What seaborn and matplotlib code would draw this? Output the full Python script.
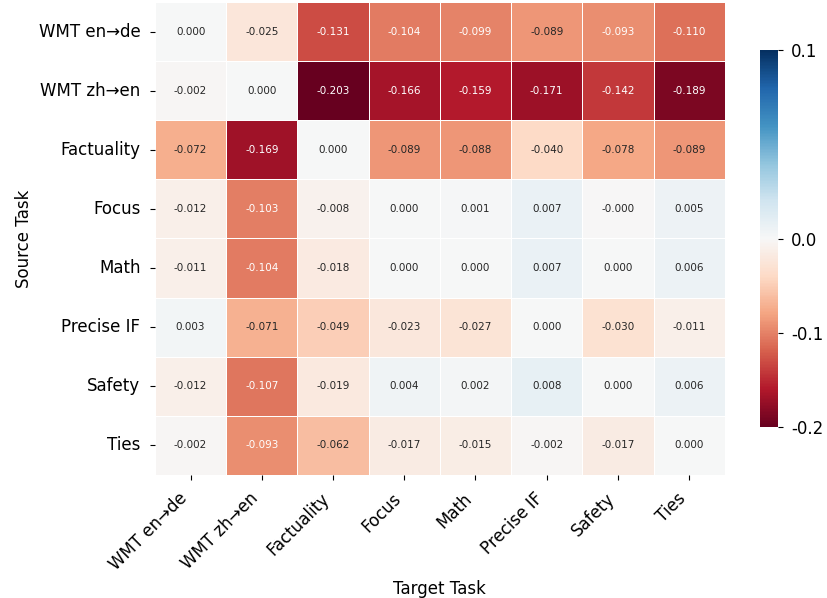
import matplotlib
matplotlib.use("Agg")
import matplotlib.pyplot as plt
import seaborn as sns
import numpy as np
import pandas as pd
from matplotlib.colors import TwoSlopeNorm

tasks = ["WMT en→de", "WMT zh→en", "Factuality", "Focus", "Math", "Precise IF", "Safety", "Ties"]

# rows = source task, columns = target task
wmt_en_de = [0.000, -0.025, -0.131, -0.104, -0.099, -0.089, -0.093, -0.110]
wmt_zh_en = [-0.002, 0.000, -0.203, -0.166, -0.159, -0.171, -0.142, -0.189]
factuality = [-0.072, -0.169, 0.000, -0.089, -0.088, -0.040, -0.078, -0.089]
focus = [-0.012, -0.103, -0.008, 0.000, 0.001, 0.007, -0.0004, 0.005]
math_ = [-0.011, -0.104, -0.018, 0.000, 0.000, 0.007, 0.000, 0.006]
precise_if = [0.003, -0.071, -0.049, -0.023, -0.027, 0.000, -0.030, -0.011]
safety = [-0.012, -0.107, -0.019, 0.004, 0.002, 0.008, 0.000, 0.006]
ties = [-0.002, -0.093, -0.062, -0.017, -0.015, -0.002, -0.017, 0.000]

df = pd.DataFrame([wmt_en_de, wmt_zh_en, factuality, focus, math_, precise_if, safety, ties],
                  index=tasks, columns=tasks)

fig = plt.figure(figsize=(8.27, 5.98), dpi=100)
ax = fig.add_axes([0.1874, 0.2057, 0.689, 0.791])
cax = fig.add_axes([0.919, 0.286, 0.0218, 0.630])

norm = TwoSlopeNorm(vmin=-0.2, vcenter=0.0, vmax=0.1)
sns.heatmap(df, ax=ax, cbar_ax=cax, cmap="RdBu", norm=norm,
            annot=True, fmt=".3f", annot_kws={"fontsize": 7.5},
            linewidths=0.6, linecolor="white",
            cbar_kws={"ticks": [-0.2, -0.1, 0.0, 0.1], "format": "%.1f"})

cax.tick_params(labelsize=12, pad=6)
cax.set_frame_on(False)
ax.set_xlabel("Target Task", fontsize=12)
ax.set_ylabel("Source Task", fontsize=12)
ax.set_xticklabels(tasks, rotation=45, ha="right", fontsize=12)
ax.set_yticklabels(tasks, rotation=0, fontsize=12)
ax.tick_params(axis="both", pad=7)

fig.savefig("out.png", dpi=100)
